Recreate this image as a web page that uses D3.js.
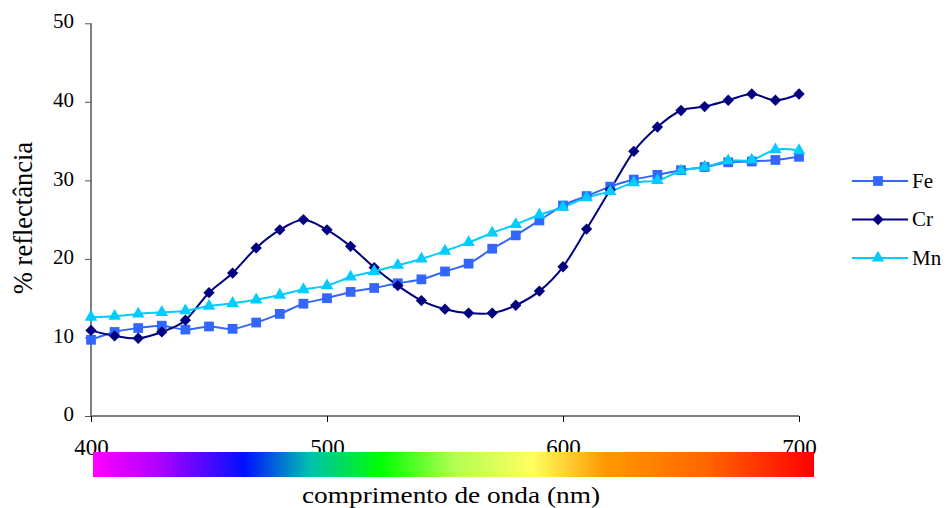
<!DOCTYPE html>
<html>
<head>
  <meta charset="UTF-8">
  <style>
    body { margin: 0; background: #fff; }
  </style>
</head>
<body>
  <svg width="947" height="508" style="font-family: 'Liberation Serif'"></svg>

  <script src="https://d3js.org/d3.v7.min.js"></script>
  <script>
    const wavelengths = d3.range(400, 701, 10);
    const fe = [9.7, 10.7, 11.2, 11.5, 11.0, 11.4, 11.1, 11.9, 13.0, 14.3, 15.0,
                15.8, 16.3, 16.9, 17.4, 18.4, 19.4, 21.3, 23.0, 24.9, 26.8,
                28.0, 29.2, 30.1, 30.7, 31.3, 31.7, 32.3, 32.4, 32.6, 33.0];
    const cr = [10.9, 10.2, 9.9, 10.7, 12.2, 15.7, 18.2, 21.4, 23.7, 25.0, 23.7,
                21.6, 18.9, 16.6, 14.7, 13.6, 13.1, 13.1, 14.1, 15.9, 19.0,
                23.8, 28.8, 33.7, 36.8, 38.9, 39.4, 40.2, 41.0, 40.2, 41.0];
    const mn = [12.6, 12.7, 13.0, 13.2, 13.4, 14.0, 14.35, 14.8, 15.4, 16.1, 16.6,
                17.7, 18.4, 19.2, 20.0, 21.0, 22.1, 23.3, 24.4, 25.6, 26.6,
                27.8, 28.6, 29.7, 30.0, 31.2, 31.7, 32.5, 32.6, 33.9, 33.8];
    const xTicks = [400, 500, 600, 700];
    const yTicks = [0, 10, 20, 30, 40, 50];

    const FONT = "Liberation Serif";

    const series = [
      { name: "Fe", values: fe, color: "#3366ff", symbol: d3.symbolSquare, size: 95, rot: 0 },
      { name: "Cr", values: cr, color: "#000080", symbol: d3.symbolSquare, size: 64, rot: 45 },
      { name: "Mn", values: mn, color: "#00ccff", symbol: d3.symbolTriangle, size: 68, rot: 0 }
    ];

    const svg = d3.select("svg");

    const x = d3.scaleLinear().domain([400, 700]).range([91, 799]);
    const y = d3.scaleLinear().domain([0, 50]).range([416, 23.3]);

    // y axis
    const yAxis = svg.append("g").attr("transform", "translate(91,0)")
      .call(d3.axisLeft(y).tickValues(yTicks).tickSize(6).tickPadding(11));
    yAxis.attr("font-family", null).attr("font-size", null);
    yAxis.select(".domain").attr("stroke", "#000").attr("d", "M0,23.3V416");
    yAxis.selectAll(".tick line").attr("stroke", "#555");
    yAxis.selectAll(".tick text")
      .attr("dy", "0.22em")
      .style("font-family", FONT).style("font-size", "21px").style("fill", "#000");

    // x axis
    const xAxis = svg.append("g").attr("transform", "translate(0,416)")
      .call(d3.axisBottom(x).tickValues(xTicks).tickSize(6).tickPadding(16.5));
    xAxis.attr("font-family", null).attr("font-size", null);
    xAxis.select(".domain").attr("stroke", "#808080").attr("stroke-width", 2).attr("d", "M91,0H799");
    xAxis.selectAll(".tick line").attr("stroke", "#000");
    xAxis.selectAll(".tick text")
      .style("font-family", FONT).style("font-size", "23px").style("fill", "#000");

    // spectrum bar
    const grad = svg.append("defs").append("linearGradient").attr("id", "spec");
    [[0, "#ff00ff"], [0.09, "#b000ff"], [0.21, "#0010ff"], [0.3, "#00c0b0"],
     [0.4, "#00ff00"], [0.5, "#b0ff50"], [0.61, "#ffff60"], [0.71, "#ff9900"],
     [0.85, "#ff6600"], [1, "#ff0000"]]
      .forEach(([o, c]) => grad.append("stop").attr("offset", o).attr("stop-color", c));
    svg.append("rect").attr("x", 93).attr("y", 452).attr("width", 721).attr("height", 25)
      .attr("fill", "url(#spec)");

    // lines
    const line = d3.line()
      .x((d, i) => x(wavelengths[i]))
      .y(d => y(d))
      .curve(d3.curveCatmullRom.alpha(0));

    series.forEach(s => {
      svg.append("path").datum(s.values)
        .attr("fill", "none")
        .attr("stroke", s.color)
        .attr("stroke-width", 2)
        .attr("d", line);
    });
    series.forEach(s => {
      svg.append("g").selectAll("path")
        .data(s.values)
        .join("path")
        .attr("transform", (d, i) => `translate(${x(wavelengths[i])},${y(d)}) rotate(${s.rot})`)
        .attr("d", d3.symbol(s.symbol, s.size))
        .attr("fill", s.color);
    });

    // legend
    const legend = svg.append("g");
    series.forEach((s, i) => {
      const ly = 181 + i * 38.5;
      legend.append("line").attr("x1", 852).attr("x2", 908).attr("y1", ly).attr("y2", ly)
        .attr("stroke", s.color).attr("stroke-width", 2);
      legend.append("path").attr("transform", `translate(878,${ly}) rotate(${s.rot})`)
        .attr("d", d3.symbol(s.symbol, s.size)).attr("fill", s.color);
      legend.append("text").attr("x", 912).attr("y", ly + 6.5)
        .style("font-family", FONT).style("font-size", "21px").text(s.name);
    });

    // titles
    svg.append("text")
      .attr("transform", "translate(32,218) rotate(-90)")
      .attr("text-anchor", "middle")
      .style("font-family", FONT).style("font-size", "26.5px")
      .text("% reflectância");
    svg.append("text")
      .attr("x", 451).attr("y", 503)
      .attr("text-anchor", "middle")
      .attr("textLength", 298).attr("lengthAdjust", "spacingAndGlyphs")
      .style("font-family", FONT).style("font-size", "24px")
      .text("comprimento de onda (nm)");
  </script>
</body>
</html>
